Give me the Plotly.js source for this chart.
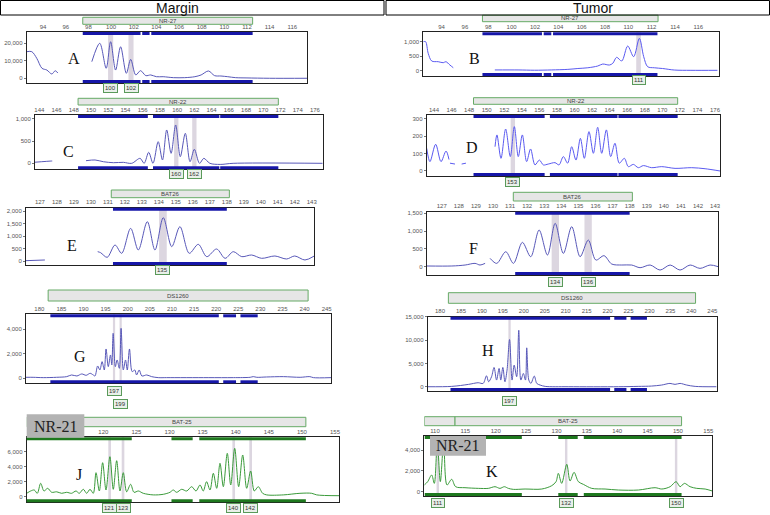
<!DOCTYPE html>
<html><head><meta charset="utf-8">
<script src="https://cdn.plot.ly/plotly-3.0.1.min.js"></script>
<style>html,body{margin:0;padding:0;background:#fff}#chart{width:770px;height:515px}</style>
</head><body><div id="chart"></div>
<script>
// ---------- data (size in bp, signal in RFU) ----------
const aX=[92.55,93.0,93.44,93.9,94.33,94.77,95.07,95.3,null,98.3,99.0,99.57,99.96,100.4,100.84,101.35,101.73,102.18,102.6,103.07,103.5,104.0,104.6,105.5,106.5,107.4,107.95,108.6,109.14,109.7,110.3,111.0,112.0,114.0,117.3];
const aY=[15200,15200,11400,5700,4700,2450,4300,3000,null,9500,20000,5700,20900,4700,18000,2850,10800,1900,4350,1500,1900,900,900,350,350,900,1900,4170,1500,1300,900,350,200,0,0];
const bX=[92.43,92.63,92.85,93.15,93.71,94.14,94.37,94.71,95.0,null,98.56,100.55,101.97,103.4,104.82,105.68,106.53,107.38,107.81,108.38,108.67,109.0,109.44,109.95,110.46,110.95,111.32,111.66,112.23,112.94,113.94,115.37,117.64];
const bY=[1000,1000,597,330,306,271,306,191,97,null,20,20,10,20,40,70,95,156,225,191,250,458,330,850,480,1118,480,132,95,70,17,7,7];
const cX=[143.5,145.44,145.5,null,149.42,150.47,151.44,152.6,153.76,154.73,155.7,156.17,156.7,157.2,157.8,158.3,158.79,159.3,159.83,160.37,160.95,161.5,162.0,162.6,163.1,163.8,165.0,166.5,176.9];
const cY=[25,52,52,null,59,75,36,14,22,0,112,0,248,0,488,75,752,225,865,150,677,36,316,0,112,0,-25,0,0];
const dX=[143.17,143.54,144.19,144.8,145.37,145.71,null,145.82,146.39,null,147.15,147.64,null,150.95,151.17,151.63,152.16,152.69,153.15,153.6,154.06,154.55,155.0,155.5,156.0,156.45,157.02,157.78,158.24,158.73,159.22,159.68,160.17,160.67,161.12,161.65,162.15,162.64,163.1,163.63,164.12,164.61,165.1,165.68,166.13,166.7,167.27,167.84,168.79,169.93,171.45,173.35,174.87,176.57];
const dY=[131,54,154,54,115,66,null,45,40,null,40,45,null,140,208,73,242,83,256,83,208,54,127,35,63,35,40,48,35,83,45,140,63,188,73,227,102,252,102,237,83,160,45,73,25,38,19,31,19,25,15,19,13,0];
const eX=[126.18,127.29,null,130.4,130.57,130.96,131.42,131.81,132.34,132.79,133.32,133.77,134.26,134.76,135.24,135.79,136.32,136.82,137.4,137.9,138.38,138.88,139.46,140.05,140.83,141.52,142.0,142.6,143.15];
const eY=[13,40,null,373,333,147,640,307,1307,440,1573,440,1733,573,1373,307,667,173,480,107,373,173,240,107,200,80,200,40,200];
const fX=[126.12,127.59,128.37,128.95,129.24,129.54,null,129.83,130.22,130.75,131.2,131.72,132.21,132.7,133.19,133.64,134.12,134.61,135.1,135.58,136.02,136.5,136.95,137.54,138.12,138.61,139.2,139.78,140.37,140.95,141.54,142.12,142.71,143.19];
const fY=[20,20,47,94,47,94,null,234,94,421,94,684,281,1030,328,1218,374,1124,281,749,187,309,75,47,47,-28,47,-94,47,-94,47,-47,47,0];
const gX=[177,178.6,180.9,183.9,186.2,187.3,188.5,189.6,190.6,191.5,192.2,192.6,193.2,193.7,194.2,194.7,195.1,195.6,196.1,196.4,196.7,197.2,197.6,198.1,198.5,199.0,199.5,199.9,200.4,201.0,201.6,202.0,202.6,203.2,204.3,205.4,206.9,208.8,218.2,223.9,227.7,228.4,229.2,231.4,235.2,239.0,241.2,242.0,246.0];
const gY=[82,82,54,82,136,272,190,354,245,408,272,190,1006,680,1360,680,2394,952,1904,1088,3672,952,1496,816,4080,680,1496,680,2394,544,680,272,680,190,272,136,54,54,54,54,82,136,82,109,136,82,136,54,54];
const hX=[177.06,182.8,186.8,189.1,190.3,191.1,191.6,192.3,192.9,193.5,194.1,194.5,195.0,195.5,196.0,196.6,197.2,197.7,198.3,198.8,199.3,199.9,200.4,200.7,201.2,201.7,202.5,203.1,203.9,205.1,210.6,222.6,227.3,230.5,232.9,234.9,236.1,237.3,238.9,240.9,246.0];
const hY=[0,71,500,857,714,2357,1071,2143,4143,1429,3929,1429,4143,1071,3571,10143,1429,4643,2143,12143,1429,2857,1429,8357,1429,714,2286,714,357,71,0,0,71,143,357,714,500,714,357,71,0];
const jX=[108.43,109.03,109.57,110.03,110.54,111.04,111.6,112.2,112.96,113.71,114.47,115.2,115.88,116.37,116.98,117.49,117.99,118.49,118.9,119.4,119.9,120.41,121.0,121.51,122.02,122.52,123.02,123.53,124.13,124.64,125.29,126.04,127.55,129.06,130.07,130.57,131.08,131.84,132.6,133.35,134.0,134.61,135.1,135.6,136.12,136.62,137.13,137.63,138.13,138.73,139.25,139.85,140.45,141.06,141.66,142.26,142.81,143.41,144.07,144.68,147.19,149.71,151.48,152.24,155.65];
const jY=[453,760,893,453,1787,760,1120,587,653,453,587,453,760,453,987,453,987,453,3200,760,4533,893,5333,987,4800,760,3200,653,1653,587,760,453,240,320,587,893,587,987,760,1333,760,1560,760,2000,893,3120,1120,4453,1333,5787,1560,6453,1333,5560,1120,3427,760,1333,453,240,240,453,453,240,133];
const kX=[108.24,108.8,109.45,109.89,110.38,110.88,111.43,111.98,112.75,113.4,114.94,117.14,118.78,119.88,120.7,121.42,122.08,122.9,124.83,127.58,129.22,129.93,130.31,130.86,131.7,132.24,132.9,133.61,134.43,135.81,138.0,140.2,143.5,146.24,147.35,148.72,149.7,150.36,151.07,152.0,153.1,154.48,155.68];
const kY=[641,962,1603,801,4800,962,4700,641,1188,480,384,320,320,480,320,480,320,224,256,256,577,962,1763,801,2628,1026,1859,962,705,320,256,160,160,384,256,480,962,480,801,480,320,256,64];

// tick labels
const ticksNR27=[94,96,98,100,102,104,106,108,110,112,114,116];
const ticksNR22=[144,146,148,150,152,154,156,158,160,162,164,166,168,170,172,174,176];
const ticksBAT26=[127,128,129,130,131,132,133,134,135,136,137,138,139,140,141,142,143];
const ticksDS=[180,185,190,195,200,205,210,215,220,225,230,235,240,245];
const ticksBAT25J=[120,125,130,135,140,145,150,155];
const ticksBAT25K=[110,115,120,125,130,135,140,145,150,155];
const aYT=[0,10000,20000], bYT=[0,500,1000], cYT=[0,500,1000], dYT=[0,100,200,300];
const eYT=[0,500,1000,1500,2000], fYT=[0,500,1000,1500], gYT=[0,2000,4000];
const hYT=[0,5000,10000,15000], jYT=[0,2000,4000,6000], kYT=[0,2000,4000];

// allele calls
const aCalls=[99.96,101.76], aLab=['100','102'];
const bCalls=[110.88], bLab=['111'];
const cCalls=[159.9,162.0], cLab=['160','162'];
const dCalls=[152.98], dLab=['153'];
const eCalls=[134.24], eLab=['135'];
const fCalls=[133.65,135.57], fLab=['134','136'];
const gCalls=[196.9,198.4], gLab=['197','199'];
const hCalls=[196.6], hLab=['197'];
const jCalls=[120.96,122.98,139.7,142.26], jLab=['121','123','140','142'];
const kCalls=[110.46,131.6,149.7], kLab=['111','132','150'];

// marker bins
const binsNR27=[[97.5,102.6],[102.75,103.4],[103.55,112.5]];
const binsNR22=[[148.5,156.6],[157.2,164.9],[165.0,171.75]];
const binsBAT26=[[131.3,138.0]];
const binsDS=[[182.5,220.6],[221.6,224.5],[225.5,229.4]];
const binsBAT25=[[108.3,124.3],[130.3,133.5],[134.5,150.6]];

// ---------- drawing ----------
const W=770,H=515;
const px=v=>v/W, py=v=>1-v/H;
const BL1='#5858b8', BL2='#5a5af0', GR='#3a9a3a', BARB='#1616a8', BARG='#1e781e';

const P=[
 {x:aX,y:aY,col:BL1,box:[26.7,32,307,83],xr:[92.55,117.3],yr:[-2700,26450],xt:ticksNR27,yt:aYT,mk:[['NR-27',97.5,112.5]],my:[17.3,24.3],bins:binsNR27,bc:BARB,calls:aCalls,lab:aLab,ly:[87.5,87.5],bw:0.45,letter:['A',74,58]},
 {x:bX,y:bY,col:BL2,box:[423.3,32.3,719.3,76],xr:[92.43,117.8],yr:[-190,1326],xt:ticksNR27,yt:bYT,mk:[['NR-27',97.5,112.55]],my:[15.2,21.7],bins:binsNR27,bc:BARB,calls:bCalls,lab:bLab,ly:[80],bw:0.4,letter:['B',474,59]},
 {x:cX,y:cY,col:BL1,box:[35,115,322.7,169.3],xr:[143.5,176.9],yr:[-135,1090],xt:ticksNR22,yt:cYT,mk:[['NR-22',148.5,171.75]],my:[98.3,105],bins:binsNR22,bc:BARB,calls:cCalls,lab:cLab,ly:[174.3,174.3],bw:0.5,letter:['C',68.3,151.7]},
 {x:dX,y:dY,col:BL2,box:[426.7,115,720,176],xr:[143.17,176.57],yr:[-29,323],xt:ticksNR22,yt:dYT,mk:[['NR-22',148.5,171.75]],my:[97.7,104.3],bins:binsNR22,bc:BARB,calls:dCalls,lab:dLab,ly:[181.5],bw:0.5,letter:['D',472.3,147.7]},
 {x:eX,y:eY,col:BL1,box:[26,207.7,314.3,265],xr:[126.18,143.15],yr:[-160,2132],xt:ticksBAT26,yt:eYT,mk:[['BAT26',131.2,138.15]],my:[190,197.7],bins:binsBAT26,bc:BARB,calls:eCalls,lab:eLab,ly:[270],bw:0.45,letter:['E',71.7,245]},
 {x:fX,y:fY,col:BL1,box:[426.7,211.7,718.3,275],xr:[126.12,143.19],yr:[-233,1545],xt:ticksBAT26,yt:fYT,mk:[['BAT26',131.19,138.16]],my:[192.3,201],bins:binsBAT26,bc:BARB,calls:fCalls,lab:fLab,ly:[281.5,281.5],bw:0.43,letter:['F',473.3,248.3]},
 {x:gX,y:gY,col:BL1,box:[26,314.3,331,383.3],xr:[176.99,245.98],yr:[-408,5224],xt:ticksDS,yt:gYT,mk:[['DS1260',182.0,240.8]],my:[290,301],bins:binsDS,bc:BARB,calls:gCalls,lab:gLab,ly:[391,404],bw:0.5,letter:['G',80,356]},
 {x:hX,y:hY,col:BL1,box:[427.7,316.7,716.7,391],xr:[177.06,246.05],yr:[-920,15050],xt:ticksDS,yt:hYT,mk:[['DS1260',182.0,241.0]],my:[292.7,303.3],bins:binsDS,bc:BARB,calls:hCalls,lab:hLab,ly:[401],bw:0.55,letter:['H',488.3,350]},
 {x:jX,y:jY,col:GR,box:[26.7,437.3,339.3,502.3],xr:[108.43,155.65],yr:[-747,7920],xt:ticksBAT25J,yt:jYT,mk:[['',108.45,113.3],['BAT-25',113.3,150.6]],my:[417.3,426.7],bins:binsBAT25,bc:BARG,calls:jCalls,lab:jLab,ly:[507.5,507.5,507.5,507.5],bw:0.4,letter:['J',79,474.3],nr:[26.7,414.3,84.3,437.7]},
 {x:kX,y:kY,col:GR,box:[424.3,436,712.3,496],xr:[108.24,155.66],yr:[-413,5346],xt:ticksBAT25K,yt:kYT,mk:[['',108.25,113.3],['BAT-25',113.3,150.6]],my:[416.7,425.7],bins:binsBAT25,bc:BARG,calls:kCalls,lab:kLab,ly:[502.5,502.5,502.5],bw:0.4,letter:['K',492.3,471.7],nr:[430,436,486,455.7]}
];

const data=[], shapes=[], ann=[];
const layout={width:W,height:H,margin:{l:0,r:0,t:0,b:0},paper_bgcolor:'#fff',plot_bgcolor:'#fff',showlegend:false,font:{family:'Liberation Sans'}};
const tf={size:6,color:'#555',family:'Liberation Sans'};

P.forEach((p,i)=>{
  const n=i+1, s=n===1?'':String(n), xa='x'+s, ya='y'+s;
  const [l,t,r,b]=p.box;
  layout['xaxis'+s]={domain:[px(l),px(r)],range:p.xr,anchor:ya,side:'top',tickvals:p.xt,ticks:'',showline:true,mirror:true,linecolor:'#222',linewidth:1,showgrid:false,zeroline:false,tickfont:tf,fixedrange:true};
  layout['yaxis'+s]={domain:[py(b),py(t)],range:p.yr,anchor:xa,tickvals:p.yt,tickformat:',d',ticks:'outside',ticklen:2,tickcolor:'#777',showline:true,mirror:true,linecolor:'#222',linewidth:1,showgrid:false,zeroline:false,tickfont:tf,fixedrange:true};
  data.push({type:'scatter',mode:'lines',x:p.x,y:p.y,xaxis:xa,yaxis:ya,line:{color:p.col,width:1,shape:'spline',smoothing:0.9},connectgaps:false,hoverinfo:'skip'});
  // call bands
  p.calls.forEach((c,k)=>{
    shapes.push({type:'rect',xref:xa,yref:ya+' domain',x0:c-p.bw/2,x1:c+p.bw/2,y0:0,y1:1,fillcolor:'#dcd6e0',line:{width:0},layer:'below'});
    ann.push({xref:xa,yref:'paper',x:c,y:py(p.ly[k]),text:p.lab[k],showarrow:false,font:{size:6,color:'#333'},bgcolor:'#e9f0e9',bordercolor:'#5a9a5a',borderwidth:1,borderpad:1,xanchor:'center',yanchor:'middle'});
  });
  // bin bars
  p.bins.forEach(sg=>{
    [t+1.5,b-1.5].forEach(yy=>{
      shapes.push({type:'line',xref:xa,yref:'paper',x0:sg[0],x1:sg[1],y0:py(yy),y1:py(yy),line:{color:p.bc,width:3}});
    });
  });
  // marker boxes
  p.mk.forEach(m=>{
    shapes.push({type:'rect',xref:xa,yref:'paper',x0:m[1],x1:m[2],y0:py(p.my[1]),y1:py(p.my[0]),fillcolor:'#e6e6e6',line:{color:'#66aa66',width:1}});
    if(m[0]) ann.push({xref:xa,yref:'paper',x:(m[1]+m[2])/2,y:py((p.my[0]+p.my[1])/2),text:m[0],showarrow:false,font:{size:6,color:'#444'},xanchor:'center',yanchor:'middle'});
  });
  // panel letter
  ann.push({xref:'paper',yref:'paper',x:px(p.letter[1]),y:py(p.letter[2]),text:p.letter[0],showarrow:false,font:{family:'Liberation Serif',size:16,color:'#111'},xanchor:'center',yanchor:'middle'});
  // NR-21 grey label
  if(p.nr){
    const q=p.nr;
    shapes.push({type:'rect',xref:'paper',yref:'paper',x0:px(q[0]),x1:px(q[2]),y0:py(q[3]),y1:py(q[1]),fillcolor:'#b3b3b3',line:{width:0}});
    ann.push({xref:'paper',yref:'paper',x:px((q[0]+q[2])/2),y:py((q[1]+q[3])/2),text:'NR-21',showarrow:false,font:{family:'Liberation Serif',size:16,color:'#222'},xanchor:'center',yanchor:'middle'});
  }
});

// column headers
shapes.push({type:'rect',xref:'paper',yref:'paper',x0:px(0.5),x1:px(384),y0:py(15),y1:py(0.5),line:{color:'#000',width:1},fillcolor:'rgba(0,0,0,0)'});
shapes.push({type:'rect',xref:'paper',yref:'paper',x0:px(386),x1:px(769.5),y0:py(15),y1:py(0.5),line:{color:'#000',width:1},fillcolor:'rgba(0,0,0,0)'});
ann.push({xref:'paper',yref:'paper',x:px(177),y:py(7.8),text:'Margin',showarrow:false,font:{size:14,color:'#111'},xanchor:'center',yanchor:'middle'});
ann.push({xref:'paper',yref:'paper',x:px(593),y:py(7.8),text:'Tumor',showarrow:false,font:{size:14,color:'#111'},xanchor:'center',yanchor:'middle'});

layout.shapes=shapes; layout.annotations=ann;
Plotly.newPlot('chart',data,layout,{staticPlot:true,displayModeBar:false});
</script></body></html>
